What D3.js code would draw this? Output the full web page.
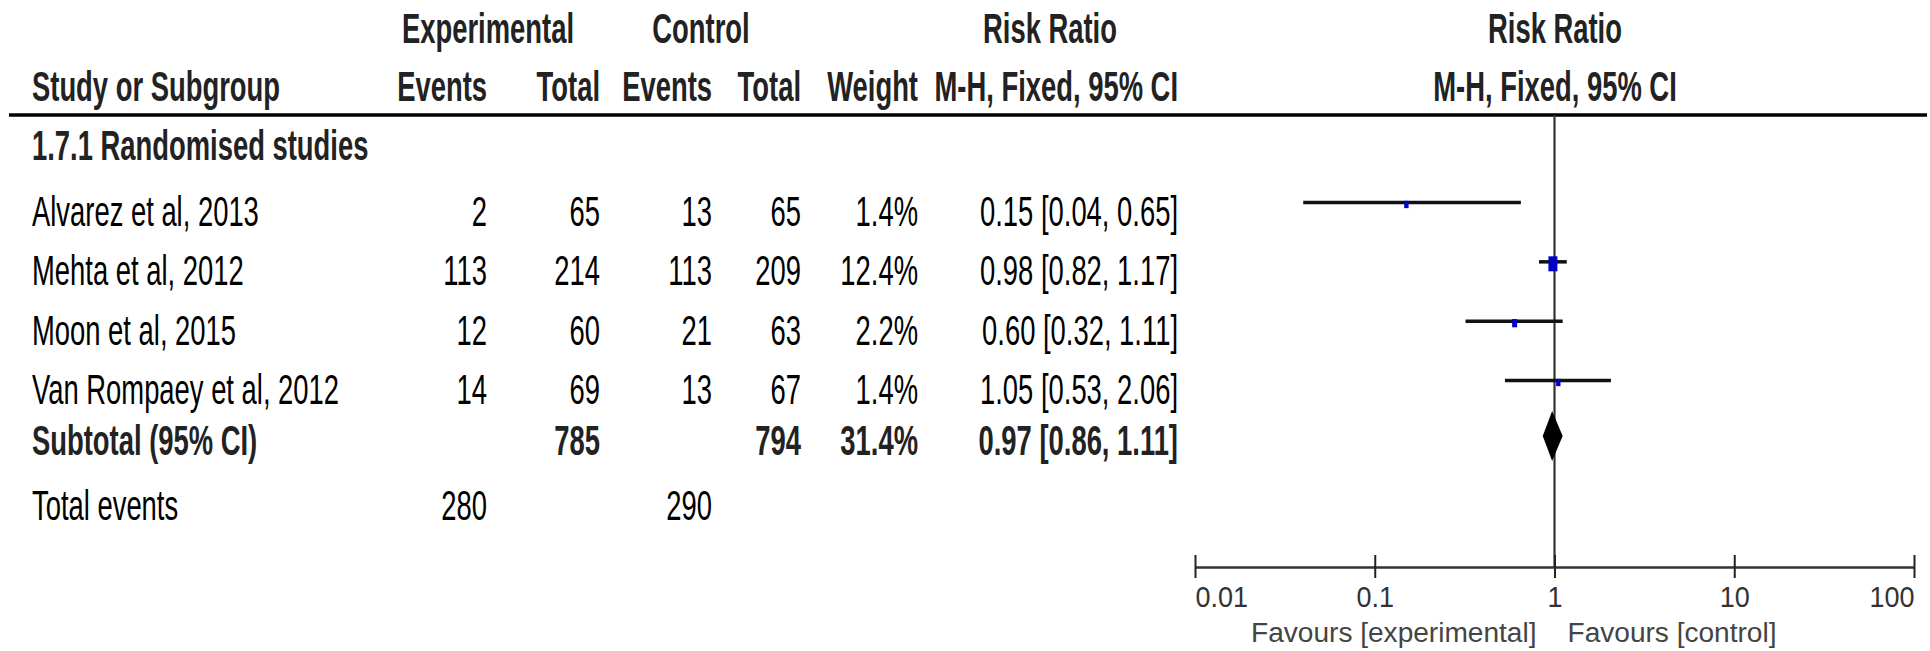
<!DOCTYPE html>
<html><head><meta charset="utf-8">
<script src="https://cdn.jsdelivr.net/npm/d3@7"></script>
<style>
html,body{margin:0;padding:0;background:#fff;overflow:hidden}
svg{display:block}
text{font-family:"Liberation Sans",Arial,sans-serif}
</style></head>
<body><svg id="chart" width="1930" height="651"></svg>
<script>
// ---- data ----
const studies = ["Alvarez et al, 2013", "Mehta et al, 2012", "Moon et al, 2015", "Van Rompaey et al, 2012"];
const expEvents = [2, 113, 12, 14];
const expTotal = [65, 214, 60, 69];
const ctrlEvents = [13, 113, 21, 13];
const ctrlTotal = [65, 209, 63, 67];
const weights = [1.4, 12.4, 2.2, 1.4];
const rr = [0.15, 0.98, 0.60, 1.05];
const ciLow = [0.04, 0.82, 0.32, 0.53];
const ciHigh = [0.65, 1.17, 1.11, 2.06];
const subgroupLabel = "1.7.1 Randomised studies";
const subtotal = {label: "Subtotal (95% CI)", expTotal: 785, ctrlTotal: 794, weight: 31.4, rr: 0.97, lo: 0.86, hi: 1.11};
const totalEvents = {label: "Total events", exp: 280, ctrl: 290};
const tickValues = [0.01, 0.1, 1, 10, 100];
const tickLabels = ["0.01", "0.1", "1", "10", "100"];
const favourLabels = ["Favours [experimental]", "Favours [control]"];

// ---- layout ----
const W = 1930, H = 651;
const svg = d3.select("#chart");
svg.append("rect").attr("width", W).attr("height", H).attr("fill", "#fff");

const FS = 43, SX = 0.637;
function txt(str, x, y, o = {}) {
  return svg.append("text")
    .attr("transform", `translate(${x},${y}) scale(${o.sx || SX},1)`)
    .attr("text-anchor", o.anchor || "start")
    .attr("font-size", o.fs || FS)
    .attr("font-weight", o.bold ? "bold" : "normal")
    .attr("fill", o.fill || "#000")
    .text(str);
}

const col = {study: 32, expEv: 487, expTot: 600, ctlEv: 712, ctlTot: 801, weight: 918, rr: 1178};
const fmt2 = d3.format(".2f"), fmtW = v => d3.format(".1f")(v) + "%";

// headers
const hdr1 = 43, hdr2 = 101;
txt("Experimental", 488, hdr1, {anchor: "middle", bold: true, fill: "#222"});
txt("Control", 701, hdr1, {anchor: "middle", bold: true, fill: "#222"});
txt("Risk Ratio", 1050, hdr1, {anchor: "middle", bold: true, fill: "#222"});
txt("Risk Ratio", 1555, hdr1, {anchor: "middle", bold: true, fill: "#222"});
txt("Study or Subgroup", col.study, hdr2, {bold: true, fill: "#222"});
txt("Events", col.expEv, hdr2, {anchor: "end", bold: true, fill: "#222"});
txt("Total", col.expTot, hdr2, {anchor: "end", bold: true, fill: "#222"});
txt("Events", col.ctlEv, hdr2, {anchor: "end", bold: true, fill: "#222"});
txt("Total", col.ctlTot, hdr2, {anchor: "end", bold: true, fill: "#222"});
txt("Weight", col.weight, hdr2, {anchor: "end", bold: true, fill: "#222"});
txt("M-H, Fixed, 95% CI", col.rr, hdr2, {anchor: "end", bold: true, fill: "#222"});
txt("M-H, Fixed, 95% CI", 1555, hdr2, {anchor: "middle", bold: true, fill: "#222"});

svg.append("line").attr("x1", 9).attr("x2", 1927).attr("y1", 115).attr("y2", 115)
  .attr("stroke", "#000").attr("stroke-width", 3.5);

txt(subgroupLabel, col.study, 160, {bold: true, fill: "#222"});

// rows
const y = d3.scalePoint().domain(studies).range([226, 404]);
const x = d3.scaleLog().domain([0.01, 100]).range([1195, 1914]);
const boxH = d3.scaleSqrt().domain([0, 12.4]).range([3.4, 15]);

const axisY = 567;
// reference line at 1
svg.append("line").attr("x1", x(1)).attr("x2", x(1)).attr("y1", 115).attr("y2", axisY)
  .attr("stroke", "#333").attr("stroke-width", 2.2);

studies.forEach((s, i) => {
  const by = y(s);
  txt(s, col.study, by);
  txt(expEvents[i], col.expEv, by, {anchor: "end"});
  txt(expTotal[i], col.expTot, by, {anchor: "end"});
  txt(ctrlEvents[i], col.ctlEv, by, {anchor: "end"});
  txt(ctrlTotal[i], col.ctlTot, by, {anchor: "end"});
  txt(fmtW(weights[i]), col.weight, by, {anchor: "end"});
  txt(`${fmt2(rr[i])} [${fmt2(ciLow[i])}, ${fmt2(ciHigh[i])}]`, col.rr, by, {anchor: "end"});
  const cy = by - 23.5;
  svg.append("line").attr("x1", x(ciLow[i])).attr("x2", x(ciHigh[i])).attr("y1", cy).attr("y2", cy)
    .attr("stroke", "#111").attr("stroke-width", 3.5);
  const h = boxH(weights[i]), w = h * 0.6;
  svg.append("rect").attr("x", x(rr[i]) - w / 2).attr("y", cy + 2 - h / 2)
    .attr("width", w).attr("height", h).attr("fill", "#0000c8");
});

// subtotal
const sy = 455;
txt(subtotal.label, col.study, sy, {bold: true, fill: "#222"});
txt(subtotal.expTotal, col.expTot, sy, {anchor: "end", bold: true, fill: "#222"});
txt(subtotal.ctrlTotal, col.ctlTot, sy, {anchor: "end", bold: true, fill: "#222"});
txt(fmtW(subtotal.weight), col.weight, sy, {anchor: "end", bold: true, fill: "#222"});
txt(`${fmt2(subtotal.rr)} [${fmt2(subtotal.lo)}, ${fmt2(subtotal.hi)}]`, col.rr, sy, {anchor: "end", bold: true, fill: "#222"});
const dcy = sy - 19, dh = 25;
svg.append("path")
  .attr("d", `M${x(subtotal.lo)},${dcy}L${x(subtotal.rr)},${dcy - dh}L${x(subtotal.hi)},${dcy}L${x(subtotal.rr)},${dcy + dh}Z`)
  .attr("fill", "#000");

// total events
const ty = 520;
txt(totalEvents.label, col.study, ty);
txt(totalEvents.exp, col.expEv, ty, {anchor: "end"});
txt(totalEvents.ctrl, col.ctlEv, ty, {anchor: "end"});

// axis
const axis = d3.axisBottom(x).tickValues(tickValues)
  .tickFormat((d, i) => tickLabels[i]).tickSizeInner(11).tickSizeOuter(0).tickPadding(0);
const ag = svg.append("g").attr("transform", `translate(0,${axisY})`).call(axis);
ag.select(".domain").attr("stroke", "#333").attr("stroke-width", 2.6);
ag.selectAll(".tick line").attr("y1", -12).attr("y2", 11).attr("stroke", "#222").attr("stroke-width", 2);
ag.selectAll(".tick text")
  .attr("y", 0).attr("dy", 0)
  .attr("font-family", '"Liberation Sans",Arial,sans-serif')
  .attr("font-size", 30).attr("fill", "#333")
  .attr("transform", "translate(0,40) scale(0.9,1)")
  .attr("text-anchor", (d, i) => i === 0 ? "start" : (i === tickValues.length - 1 ? "end" : "middle"));

txt(favourLabels[0], x(1) - 18, 642, {anchor: "end", fs: 27, sx: 1.04, fill: "#444"});
txt(favourLabels[1], x(1) + 13, 642, {anchor: "start", fs: 27, sx: 1.04, fill: "#444"});
</script>
</body></html>
